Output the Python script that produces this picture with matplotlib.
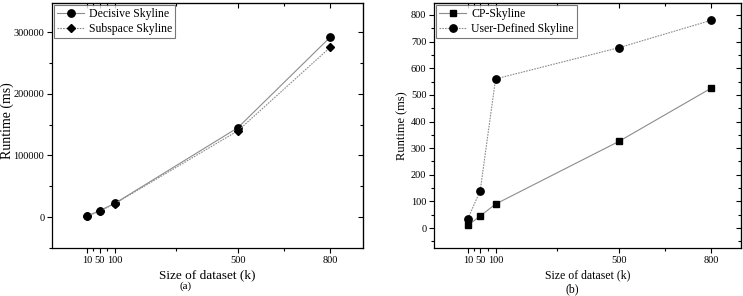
import numpy as np
import matplotlib
matplotlib.use('Agg')
import matplotlib.pyplot as plt
from matplotlib.ticker import MultipleLocator, FixedLocator

plt.rcParams['font.family'] = ['Liberation Serif', 'DejaVu Serif']

# Data
sizes = [10, 50, 100, 500, 800]
decisive = [2000, 10500, 22500, 145000, 291500]
subspace = [1500, 9800, 22000, 140000, 275000]
cp_skyline = [10, 45, 90, 325, 525]
user_defined = [35, 140, 560, 677, 780]

xticks = [10, 50, 100, 500, 800]
xminor = [30, 75, 300, 650]

fig = plt.figure(figsize=(7.43, 2.96), dpi=100)
W, H = 743, 296

def add_axes(x0, x1, y0, y1):
    return fig.add_axes([x0 / W, 1 - y1 / H, (x1 - x0) / W, (y1 - y0) / H])

ax1 = add_axes(52, 363, 3, 248)
ax2 = add_axes(434, 741, 3, 248)

gray = '#8c8c8c'

# (a)
ax1.plot(sizes, decisive, color=gray, lw=0.8, ls='-', marker='o', ms=5.3,
         mfc='black', mec='black', label='Decisive Skyline')
ax1.plot(sizes, subspace, color=gray, lw=0.8, ls=(0, (1.5, 1)), marker='D', ms=4.3,
         mfc='black', mec='black', label='Subspace Skyline')
ax1.set_xlim(-105, 907)
ax1.set_ylim(-50000, 347000)
ax1.yaxis.set_major_locator(MultipleLocator(100000))
ax1.yaxis.set_minor_locator(MultipleLocator(50000))

# (b)
ax2.plot(sizes, cp_skyline, color=gray, lw=0.8, ls='-', marker='s', ms=4.8,
         mfc='black', mec='black', label='CP-Skyline')
ax2.plot(sizes, user_defined, color=gray, lw=0.8, ls=(0, (1.5, 1)), marker='o', ms=5.3,
         mfc='black', mec='black', label='User-Defined Skyline')
ax2.set_xlim(-100, 897)
ax2.set_ylim(-75, 845)
ax2.yaxis.set_major_locator(MultipleLocator(100))
ax2.yaxis.set_minor_locator(MultipleLocator(50))

for ax in (ax1, ax2):
    ax.xaxis.set_major_locator(FixedLocator(xticks))
    ax.xaxis.set_minor_locator(FixedLocator(xminor))
    ax.tick_params(axis='both', which='major', labelsize=7.5, length=3.5, width=0.8,
                   direction='out', pad=2)
    ax.tick_params(axis='both', which='minor', length=2, width=0.8, direction='out')
    for sp in ax.spines.values():
        sp.set_linewidth(0.9)
    # inward ticks on top and right
    secx = ax.secondary_xaxis('top')
    secx.xaxis.set_major_locator(FixedLocator(xticks))
    secx.xaxis.set_minor_locator(FixedLocator(xminor))
    secx.tick_params(which='major', direction='in', length=3.5, width=0.8, labeltop=False)
    secx.tick_params(which='minor', direction='in', length=2, width=0.8)
    secy = ax.secondary_yaxis('right')
    secy.yaxis.set_major_locator(ax.yaxis.get_major_locator())
    secy.yaxis.set_minor_locator(ax.yaxis.get_minor_locator())
    secy.tick_params(which='major', direction='in', length=3.5, width=0.8, labelright=False)
    secy.tick_params(which='minor', direction='in', length=2, width=0.8)
    leg = ax.legend(loc='upper left', fontsize=8.5, frameon=True, fancybox=False,
                    edgecolor='#555555', borderaxespad=0.2, handlelength=2.3,
                    borderpad=0.25, labelspacing=0.2, handletextpad=0.4)
    leg.get_frame().set_linewidth(0.8)

ax1.set_xlabel('Size of dataset (k)', fontsize=9.5, labelpad=3)
ax2.set_xlabel('Size of dataset (k)', fontsize=8.5, labelpad=3)
ax2.set_ylabel('Runtime (ms)', fontsize=9, labelpad=2)

# left y label sits very close to the figure edge
fig.text(7 / W, 1 - 121 / H, 'Runtime (ms)', fontsize=10, rotation=90,
         ha='center', va='center')

fig.text(186 / W, 1 - 286 / H, '(a)', fontsize=8, ha='center', va='center')
fig.text(572 / W, 1 - 289 / H, '(b)', fontsize=8.5, ha='center', va='center')

fig.savefig('out.png', dpi=100)
